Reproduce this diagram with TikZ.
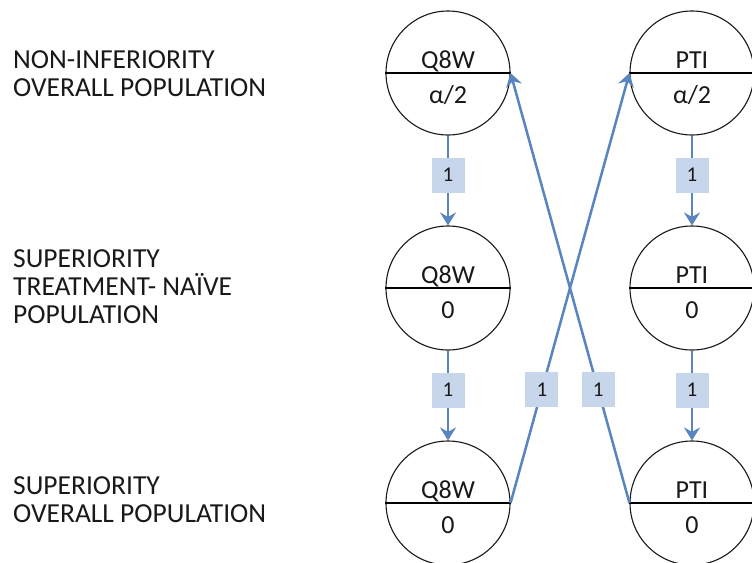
\documentclass[tikz,border=0pt]{standalone}
\usepackage{fontspec}
\setmainfont{Carlito}
\usetikzlibrary{arrows.meta,calc}
\definecolor{flowblue}{RGB}{88,133,192}
\definecolor{boxfill}{RGB}{199,214,234}
\definecolor{inkc}{RGB}{25,25,25}
\begin{document}
\begin{tikzpicture}[x=1pt,y=-1pt,
  every node/.style={inner sep=0pt, text=inkc},
  popcircle/.style={circle, draw=inkc, line width=1.1pt, minimum size=124pt},
  divider/.style={draw=black, line width=2pt},
  bigtxt/.style={font=\fontsize{26}{28}\selectfont},
  rowlabel/.style={font=\fontsize{27.5}{28}\selectfont, align=left, anchor=west},
  flow/.style={draw=flowblue, line width=2.5pt, -{Stealth[length=13pt,width=16pt,inset=4.5pt]}},
  lbl/.style={fill=boxfill, minimum width=33pt, minimum height=35pt, font=\fontsize{21}{21}\selectfont}
]
\fill[white] (0,0) rectangle (752,562);
\useasboundingbox (0,0) rectangle (752,562);

% row labels
\node[rowlabel] (t1) at (13,74) {NON-INFERIORITY\\OVERALL POPULATION};
\node[rowlabel] (t2) at (13,287) {SUPERIORITY\\TREATMENT- NAÏVE\\POPULATION};
\node[rowlabel] (t3) at (13,500) {SUPERIORITY\\OVERALL POPULATION};

% circles
\foreach \n/\x/\y in {q1/448/73, q2/448/288, q3/448/503, p1/692/73, p2/692/288, p3/692/503}{
  \node[popcircle] (\n) at (\x,\y) {};
  \draw[divider] (\n.west) -- (\n.east);
}

% circle texts
\node[bigtxt, anchor=base] (q1a) at ($(q1.center)+(0,-5)$) {Q8W};
\node[bigtxt, anchor=base] (q1b) at ($(q1.center)+(0,30)$) {α/2};
\node[bigtxt, anchor=base] (q2a) at ($(q2.center)+(0,-5)$) {Q8W};
\node[bigtxt, anchor=base] (q2b) at ($(q2.center)+(0,30)$) {0};
\node[bigtxt, anchor=base] (q3a) at ($(q3.center)+(0,-5)$) {Q8W};
\node[bigtxt, anchor=base] (q3b) at ($(q3.center)+(0,30)$) {0};
\node[bigtxt, anchor=base] (p1a) at ($(p1.center)+(0,-5)$) {PTI};
\node[bigtxt, anchor=base] (p1b) at ($(p1.center)+(0,30)$) {α/2};
\node[bigtxt, anchor=base] (p2a) at ($(p2.center)+(0,-5)$) {PTI};
\node[bigtxt, anchor=base] (p2b) at ($(p2.center)+(0,30)$) {0};
\node[bigtxt, anchor=base] (p3a) at ($(p3.center)+(0,-5)$) {PTI};
\node[bigtxt, anchor=base] (p3b) at ($(p3.center)+(0,30)$) {0};

% connectors
\draw[flow] (q1.south) -- node[lbl, pos=0.44] (l1) {1} (q2.north);
\draw[flow] (q2.south) -- node[lbl, pos=0.44] (l2) {1} (q3.north);
\draw[flow] (p1.south) -- node[lbl, pos=0.44] (l5) {1} (p2.north);
\draw[flow] (p2.south) -- node[lbl, pos=0.44] (l6) {1} (p3.north);
\draw[flow] (q3.east) -- node[lbl, pos=0.263] (l3) {1} (p1.west);
\draw[flow] (p3.west) -- node[lbl, pos=0.263] (l4) {1} (q1.east);
\end{tikzpicture}
\end{document}
